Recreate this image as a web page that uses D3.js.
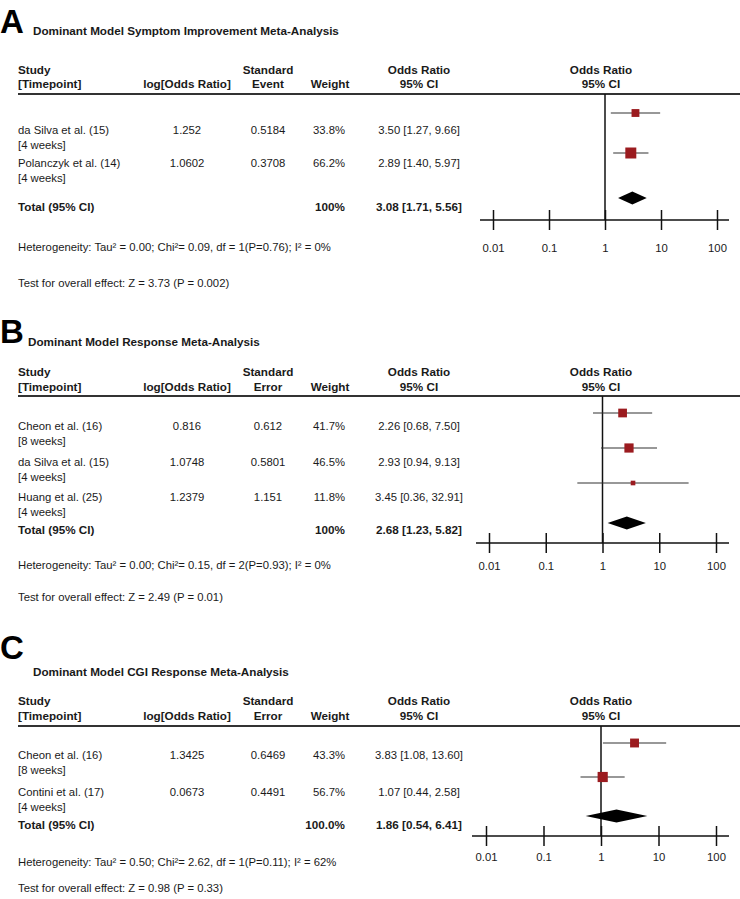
<!DOCTYPE html>
<html lang="en">
<head>
<meta charset="UTF-8">
<title>Dominant Model Meta-Analyses</title>
<script src="https://d3js.org/d3.v7.min.js"></script>
<style>
  body { margin: 0; background: #fff; }
  svg { display: block; font-family: "Liberation Sans", Arial, sans-serif; }
  text { fill: #1a1a1a; }
  .letter { font-size: 33px; font-weight: bold; fill: #000; }
  .title, .head, .bold { font-size: 11.7px; font-weight: bold; }
  .txt { font-size: 11.3px; }
  .tick line { stroke: #111; stroke-width: 1.5; }
</style>
</head>
<body>
<svg width="740" height="899"></svg>
<script>
// ---- data ----
const panelLetters = ["A", "B", "C"];
const panelTitles = [
  "Dominant Model Symptom Improvement Meta-Analysis",
  "Dominant Model Response Meta-Analysis",
  "Dominant Model CGI Response Meta-Analysis"
];
const seLabels = ["Event", "Error", "Error"];

const studiesA = ["da Silva et al. (15)", "Polanczyk et al. (14)"];
const timepointsA = ["[4 weeks]", "[4 weeks]"];
const logOrA = [1.252, 1.0602];
const seA = [0.5184, 0.3708];
const weightA = [33.8, 66.2];
const orA = [3.50, 2.89];
const loA = [1.27, 1.40];
const hiA = [9.66, 5.97];
const totalA = [3.08, 1.71, 5.56];
const totalWeightA = "100%";
const hetA = "Heterogeneity: Tau\u00b2 = 0.00; Chi\u00b2= 0.09, df = 1(P=0.76); I\u00b2 = 0%";
const testA = "Test for overall effect: Z = 3.73 (P = 0.002)";

const studiesB = ["Cheon et al. (16)", "da Silva et al. (15)", "Huang et al. (25)"];
const timepointsB = ["[8 weeks]", "[4 weeks]", "[4 weeks]"];
const logOrB = [0.816, 1.0748, 1.2379];
const seB = [0.612, 0.5801, 1.151];
const weightB = [41.7, 46.5, 11.8];
const orB = [2.26, 2.93, 3.45];
const loB = [0.68, 0.94, 0.36];
const hiB = [7.50, 9.13, 32.91];
const totalB = [2.68, 1.23, 5.82];
const totalWeightB = "100%";
const hetB = "Heterogeneity: Tau\u00b2 = 0.00; Chi\u00b2= 0.15, df = 2(P=0.93); I\u00b2 = 0%";
const testB = "Test for overall effect: Z = 2.49 (P = 0.01)";

const studiesC = ["Cheon et al. (16)", "Contini et al. (17)"];
const timepointsC = ["[8 weeks]", "[4 weeks]"];
const logOrC = [1.3425, 0.0673];
const seC = [0.6469, 0.4491];
const weightC = [43.3, 56.7];
const orC = [3.83, 1.07];
const loC = [1.08, 0.44];
const hiC = [13.60, 2.58];
const totalC = [1.86, 0.54, 6.41];
const totalWeightC = "100.0%";
const hetC = "Heterogeneity: Tau\u00b2 = 0.50; Chi\u00b2= 2.62, df = 1(P=0.11); I\u00b2 = 62%";
const testC = "Test for overall effect: Z = 0.98 (P = 0.33)";

const tickValues = [0.01, 0.1, 1, 10, 100];
const tickLabels = ["0.01", "0.1", "1", "10", "100"];

const panels = [
  { studies: studiesA, times: timepointsA, logOr: logOrA, se: seA, weight: weightA, or: orA, lo: loA, hi: hiA, total: totalA, totalWeight: totalWeightA, het: hetA, test: testA },
  { studies: studiesB, times: timepointsB, logOr: logOrB, se: seB, weight: weightB, or: orB, lo: loB, hi: hiB, total: totalB, totalWeight: totalWeightB, het: hetB, test: testB },
  { studies: studiesC, times: timepointsC, logOr: logOrC, se: seC, weight: weightC, or: orC, lo: loC, hi: hiC, total: totalC, totalWeight: totalWeightC, het: hetC, test: testC }
];

// ---- layout ----
const cols = { study: 18, logOr: 187, se: 268, weight: 345, weightHead: 330, ci: 419, forest: 601 };
const layout = [
  { letterY: 33, titleX: 33, titleY: 35, head1Y: 74, head2Y: 88, ruleY: 94, rowY: [134, 167], totalY: 211, hetY: 251, testY: 287,
    markerY: [113, 153], diamondY: 198, axisY: 220, axisX: [480, 729], tickX: [493, 717], tickLabelY: 252 },
  { letterY: 343, titleX: 28, titleY: 346, head1Y: 376, head2Y: 391, ruleY: 396, rowY: [430, 466, 501], totalY: 534, hetY: 569, testY: 601,
    markerY: [413, 483], diamondY: 523, axisY: 543, axisX: [476, 729], tickX: [489, 716], tickLabelY: 570 },
  { letterY: 659, titleX: 33, titleY: 676, head1Y: 705, head2Y: 720, ruleY: 726, rowY: [759, 796], totalY: 829, hetY: 866, testY: 892,
    markerY: [743, 777], diamondY: 816, axisY: 836, axisX: [472, 729], tickX: [486, 716], tickLabelY: 861 }
];
const lineGap = 14.5;
const boxSize = d3.scaleSqrt().domain([0, 100]).range([0, 13.5]);
const fmt = d3.format(".2f");

const svg = d3.select("svg");

function label(g, cls, x, y, anchor, t) {
  return g.append("text").attr("class", cls).attr("x", x).attr("y", y)
    .attr("text-anchor", anchor).text(t);
}

panels.forEach((p, i) => {
  const L = layout[i];
  const g = svg.append("g");

  label(g, "letter", 0, L.letterY, "start", panelLetters[i]);
  label(g, "title", L.titleX, L.titleY, "start", panelTitles[i]);

  // column headers
  label(g, "head", cols.study, L.head1Y, "start", "Study");
  label(g, "head", cols.study, L.head2Y, "start", "[Timepoint]");
  label(g, "head", cols.logOr, L.head2Y, "middle", "log[Odds Ratio]");
  label(g, "head", cols.se, L.head1Y, "middle", "Standard");
  label(g, "head", cols.se, L.head2Y, "middle", seLabels[i]);
  label(g, "head", cols.weightHead, L.head2Y, "middle", "Weight");
  label(g, "head", cols.ci, L.head1Y, "middle", "Odds Ratio");
  label(g, "head", cols.ci, L.head2Y, "middle", "95% CI");
  label(g, "head", cols.forest, L.head1Y, "middle", "Odds Ratio");
  label(g, "head", cols.forest, L.head2Y, "middle", "95% CI");

  g.append("line").attr("x1", cols.study).attr("x2", 740)
    .attr("y1", L.ruleY).attr("y2", L.ruleY)
    .attr("stroke", "#333").attr("stroke-width", 2);

  // study rows
  p.studies.forEach((s, j) => {
    const y = L.rowY[j];
    label(g, "txt", cols.study, y, "start", s);
    label(g, "txt", cols.study, y + lineGap, "start", p.times[j]);
    label(g, "txt", cols.logOr, y, "middle", p.logOr[j]);
    label(g, "txt", cols.se, y, "middle", p.se[j]);
    label(g, "txt", cols.weight, y, "end", p.weight[j].toFixed(1) + "%");
    label(g, "txt", cols.ci, y, "middle", `${fmt(p.or[j])} [${fmt(p.lo[j])}, ${fmt(p.hi[j])}]`);
  });

  label(g, "bold", cols.study, L.totalY, "start", "Total (95% CI)");
  label(g, "bold", cols.weight, L.totalY, "end", p.totalWeight);
  label(g, "bold", cols.ci, L.totalY, "middle", `${fmt(p.total[0])} [${fmt(p.total[1])}, ${fmt(p.total[2])}]`);

  label(g, "txt", cols.study, L.hetY, "start", p.het);
  label(g, "txt", cols.study, L.testY, "start", p.test);

  // forest plot
  const x = d3.scaleLog().domain([0.01, 100]).range(L.tickX);
  const y = d3.scalePoint().domain(p.studies).range(L.markerY);

  g.append("line").attr("x1", x(1)).attr("x2", x(1))
    .attr("y1", L.ruleY).attr("y2", L.axisY)
    .attr("stroke", "#111").attr("stroke-width", 1.5);

  const axisG = g.append("g").attr("transform", `translate(0,${L.axisY})`);
  axisG.append("line").attr("x1", L.axisX[0]).attr("x2", L.axisX[1])
    .attr("stroke", "#111").attr("stroke-width", 1.5);
  axisG.append("g")
    .call(d3.axisTop(x).tickValues(tickValues).tickSize(10).tickFormat(""))
    .call(a => a.select(".domain").remove());
  axisG.append("g")
    .call(d3.axisBottom(x).tickValues(tickValues).tickSize(10).tickFormat((d, k) => tickLabels[k]))
    .call(a => a.select(".domain").remove())
    .call(a => a.selectAll("text")
      .attr("class", "txt")
      .attr("font-size", null).attr("font-family", null)
      .attr("y", L.tickLabelY - L.axisY).attr("dy", null));
  axisG.selectAll("g").attr("font-size", null).attr("font-family", null);

  const rows = p.studies.map((s, j) => ({ s, or: p.or[j], lo: p.lo[j], hi: p.hi[j], w: p.weight[j] }));

  g.append("g").selectAll("line").data(rows).join("line")
    .attr("x1", d => x(d.lo)).attr("x2", d => x(d.hi))
    .attr("y1", d => y(d.s)).attr("y2", d => y(d.s))
    .attr("stroke", "#333").attr("stroke-width", 1.2);

  g.append("g").selectAll("rect").data(rows).join("rect")
    .attr("x", d => x(d.or) - boxSize(d.w) / 2)
    .attr("y", d => y(d.s) - boxSize(d.w) / 2)
    .attr("width", d => boxSize(d.w))
    .attr("height", d => boxSize(d.w))
    .attr("fill", "#9b1b1f");

  const dy = L.diamondY, h = 6.5;
  g.append("path")
    .attr("d", `M${x(p.total[1])},${dy}L${x(p.total[0])},${dy - h}L${x(p.total[2])},${dy}L${x(p.total[0])},${dy + h}Z`)
    .attr("fill", "#000");
});
</script>
</body>
</html>
